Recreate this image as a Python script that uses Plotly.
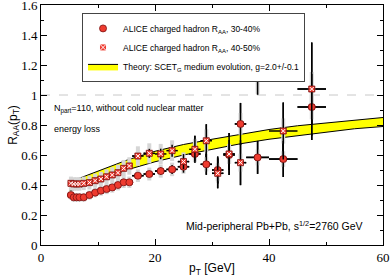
import plotly.graph_objects as go

# ---- data ----
pt = [5.25, 5.75, 6.25, 6.75, 7.5, 8.5, 9.5, 10.5, 11.5, 12.5, 13.5, 14.5, 15.5,
      17, 19, 21, 23, 25, 27, 29, 31, 33, 35, 38, 42.5, 47.5]
pt_halfbin = [0.25, 0.25, 0.25, 0.25, 0.5, 0.5, 0.5, 0.5, 0.5, 0.5, 0.5, 0.5, 0.5,
              1, 1, 1, 1, 1, 1, 1, 1, 1, 1, 2, 2.5, 2.5]

raa_3040 = [0.333, 0.318, 0.318, 0.318, 0.318, 0.333, 0.349, 0.362, 0.373, 0.384, 0.400, 0.418, 0.418,
            0.462, 0.473, 0.493, 0.504, 0.522, 0.607, 0.538, 0.500, 0.600, 0.807, 0.584, 0.573, 0.920]
stat_3040 = [0.004, 0.004, 0.004, 0.004, 0.004, 0.005, 0.006, 0.007, 0.008, 0.009, 0.010, 0.012, 0.013,
             0.015, 0.02, 0.025, 0.03, 0.04, 0.05, 0.07, 0.09, 0.10, 0.14, 0.11, 0.12, 0.22]
sys_3040 = [0.030, 0.029, 0.029, 0.029, 0.029, 0.030, 0.031, 0.033, 0.034, 0.035, 0.036, 0.038, 0.038,
            0.042, 0.043, 0.044, 0.045, 0.047, 0.055, 0.048, 0.045, 0.054, 0.073, 0.053, 0.052, 0.083]

raa_4050 = [0.411, 0.407, 0.407, 0.407, 0.411, 0.416, 0.429, 0.440, 0.455, 0.467, 0.482, 0.511, 0.527,
            0.593, 0.611, 0.607, 0.629, 0.556, 0.638, 0.695, 0.478, 0.607, 0.549, 1.133, 0.760, 1.040]
stat_4050 = [0.005, 0.005, 0.005, 0.005, 0.005, 0.006, 0.007, 0.008, 0.009, 0.010, 0.012, 0.014, 0.016,
             0.02, 0.03, 0.035, 0.04, 0.05, 0.09, 0.11, 0.10, 0.14, 0.15, 0.13, 0.19, 0.31]
sys_4050 = [0.045, 0.045, 0.045, 0.045, 0.045, 0.046, 0.047, 0.048, 0.050, 0.051, 0.053, 0.056, 0.058,
            0.065, 0.067, 0.067, 0.069, 0.061, 0.070, 0.076, 0.053, 0.067, 0.060, 0.125, 0.084, 0.114]

band_pt = [5, 10, 15, 20, 25, 30, 35, 40, 45, 50, 55, 60]
band_hi = [0.42, 0.49, 0.565, 0.625, 0.67, 0.705, 0.74, 0.77, 0.795, 0.815, 0.835, 0.85]
band_lo = [0.36, 0.42, 0.50, 0.555, 0.60, 0.64, 0.675, 0.705, 0.73, 0.755, 0.775, 0.79]

SANS = "Liberation Sans, Arial, sans-serif"
SERIF = "Liberation Serif, Times New Roman, serif"
RED = "#ee3b2f"
GRAY = "#d6d6d6"

fig = go.Figure()

# 30-40% circles (first in legend)
fig.add_trace(go.Scatter(x=pt, y=raa_3040, mode="markers",
                         marker=dict(symbol="circle", size=7, color=RED,
                                     line=dict(color="#7a1010", width=0.8)),
                         error_y=dict(type="data", array=stat_3040, color="black", thickness=1.5, width=0),
                         error_x=dict(type="data", array=pt_halfbin, color="black", thickness=1.5, width=0),
                         name="ALICE charged hadron R<sub>AA</sub>, 30-40%", legendrank=1))

# 40-50% squares (legend entry; redrawn on top below)
fig.add_trace(go.Scatter(x=pt, y=raa_4050, mode="markers",
                         marker=dict(symbol="square-x", size=7, color=RED,
                                     line=dict(color="white", width=1)),
                         error_y=dict(type="data", array=stat_4050, color="black", thickness=1.5, width=0),
                         error_x=dict(type="data", array=pt_halfbin, color="black", thickness=1.5, width=0),
                         name="ALICE charged hadron R<sub>AA</sub>, 40-50%", legendrank=2))

# theory band
fig.add_trace(go.Scatter(x=band_pt, y=band_lo, mode="lines", line=dict(color="black", width=1),
                         showlegend=False, hoverinfo="skip", legendrank=4))
fig.add_trace(go.Scatter(x=band_pt, y=band_hi, mode="lines", line=dict(color="black", width=1),
                         fill="tonexty", fillcolor="#ffff00",
                         name="Theory: SCET<sub>G</sub> medium evolution, g=2.0+/-0.1",
                         legendrank=3))

# systematic uncertainty bars
for vals, sys in ((raa_3040, sys_3040), (raa_4050, sys_4050)):
    fig.add_trace(go.Scatter(x=pt, y=vals, mode="markers",
                             marker=dict(size=1, color="rgba(0,0,0,0)"),
                             error_y=dict(type="data", array=sys, color=GRAY, thickness=4, width=0),
                             showlegend=False, hoverinfo="skip"))

# redraw data on top of band and systematics
fig.add_trace(go.Scatter(x=pt, y=raa_3040, mode="markers",
                         marker=dict(symbol="circle", size=7, color=RED,
                                     line=dict(color="#7a1010", width=0.8)),
                         error_y=dict(type="data", array=stat_3040, color="black", thickness=1.5, width=0),
                         error_x=dict(type="data", array=pt_halfbin, color="black", thickness=1.5, width=0),
                         showlegend=False, hoverinfo="skip"))
fig.add_trace(go.Scatter(x=pt, y=raa_4050, mode="markers",
                         marker=dict(symbol="square", size=6, color=RED,
                                     line=dict(color="#7a1010", width=0.8)),
                         error_y=dict(type="data", array=stat_4050, color="black", thickness=1.5, width=0),
                         error_x=dict(type="data", array=pt_halfbin, color="black", thickness=1.5, width=0),
                         showlegend=False, hoverinfo="skip"))
fig.add_trace(go.Scatter(x=pt, y=raa_4050, mode="markers",
                         marker=dict(symbol="x-thin", size=4, color="white",
                                     line=dict(color="white", width=1)),
                         showlegend=False, hoverinfo="skip"))

fig.add_shape(type="line", xref="paper", yref="y", x0=0, x1=1, y0=1, y1=1,
              line=dict(color="#c8c8c8", width=1, dash="dash"), layer="below")

fig.add_annotation(x=2, y=0.905, xref="x", yref="y", xanchor="left", yanchor="middle",
                   text="N<sub>part</sub>=110, without cold nuclear matter", showarrow=False,
                   font=dict(family=SANS, size=9, color="black"))
fig.add_annotation(x=2, y=0.773, xref="x", yref="y", xanchor="left", yanchor="middle",
                   text="energy loss", showarrow=False,
                   font=dict(family=SANS, size=9, color="black"))
fig.add_annotation(x=56.8, y=0.133, xref="x", yref="y", xanchor="right", yanchor="middle",
                   text="Mid-peripheral Pb+Pb, s<sup>1/2</sup>=2760 GeV", showarrow=False,
                   font=dict(family=SANS, size=10.5, color="black"))

axis_common = dict(showline=True, linecolor="black", linewidth=1, mirror="ticks",
                   ticks="inside", ticklen=6, tickcolor="black", showgrid=False, zeroline=False,
                   automargin=False, ticklabeloverflow="allow",
                   tickfont=dict(family=SERIF, size=13, color="black"))

fig.update_layout(
    width=390, height=279,
    margin=dict(l=41, r=7, t=5, b=34),
    paper_bgcolor="white", plot_bgcolor="white",
    xaxis=dict(range=[0, 60], dtick=20, tick0=0,
               minor=dict(ticks="inside", dtick=10, ticklen=3, tickcolor="black"),
               title=dict(text="p<sub>T</sub> [GeV]", font=dict(family=SANS, size=12, color="black"),
                          standoff=0),
               **axis_common),
    yaxis=dict(range=[0, 1.6], dtick=0.2, tick0=0,
               minor=dict(ticks="inside", dtick=0.1, ticklen=3, tickcolor="black"),
               title=dict(text="R<sub>AA</sub>(p<sub>T</sub>)", font=dict(family=SANS, size=12, color="black"),
                          standoff=0),
               **axis_common),
    legend=dict(x=0.12, y=0.967, xanchor="left", yanchor="top", traceorder="normal",
                bgcolor="white", bordercolor="#444", borderwidth=1,
                font=dict(family=SANS, size=8.5, color="black"),
                itemwidth=30, tracegroupgap=0),
    showlegend=True,
)

fig.write_html("out.html", config={"displayModeBar": False},
               post_script="document.body.style.margin='0px';")
